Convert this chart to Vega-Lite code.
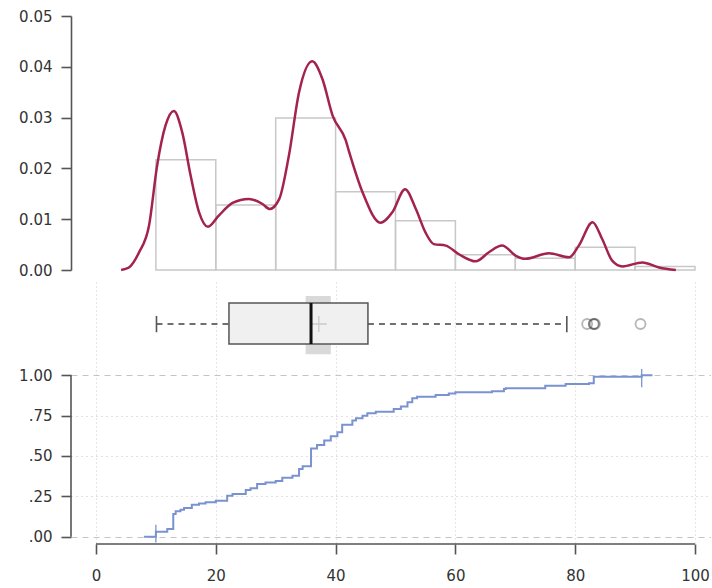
{
  "$schema": "https://vega.github.io/schema/vega-lite/v6.json",
  "autosize": {"type": "pad"},
  "padding": {"left": 18, "top": 9, "right": 0, "bottom": 0},
  "background": "white",
  "spacing": 12,
  "bounds": "flush",
  "config": {
    "view": {"stroke": null},
    "font": "DejaVu Sans",
    "axis": {
      "labelFont": "DejaVu Sans",
      "labelFontSize": 15,
      "labelColor": "#333333",
      "domainColor": "#555555",
      "tickColor": "#555555",
      "domainWidth": 1.6,
      "tickWidth": 1.6,
      "tickSize": 10,
      "title": null
    }
  },
  "datasets": {
    "hist": [
      {"bin_start": 10, "bin_end": 20, "density": 0.0217},
      {"bin_start": 20, "bin_end": 30, "density": 0.0128},
      {"bin_start": 30, "bin_end": 40, "density": 0.0299},
      {"bin_start": 40, "bin_end": 50, "density": 0.0154},
      {"bin_start": 50, "bin_end": 60, "density": 0.0097},
      {"bin_start": 60, "bin_end": 70, "density": 0.0030},
      {"bin_start": 70, "bin_end": 80, "density": 0.0023},
      {"bin_start": 80, "bin_end": 90, "density": 0.0045},
      {"bin_start": 90, "bin_end": 100, "density": 0.0007}
    ],
    "dens": [
      {"x": 4.2, "d": 0.0}, {"x": 5.5, "d": 0.0005}, {"x": 7.2, "d": 0.0035}, {"x": 8.85, "d": 0.0087},
      {"x": 10.2, "d": 0.0205}, {"x": 11.6, "d": 0.0284}, {"x": 13.0, "d": 0.0313}, {"x": 14.4, "d": 0.0271},
      {"x": 15.8, "d": 0.0186}, {"x": 17.2, "d": 0.0114}, {"x": 18.7, "d": 0.0085}, {"x": 20.5, "d": 0.0107},
      {"x": 22.8, "d": 0.0132}, {"x": 25.5, "d": 0.014}, {"x": 27.8, "d": 0.013}, {"x": 29.0, "d": 0.012},
      {"x": 30.6, "d": 0.014}, {"x": 32.2, "d": 0.0225}, {"x": 33.9, "d": 0.035}, {"x": 36.1, "d": 0.0411},
      {"x": 37.8, "d": 0.0376}, {"x": 39.5, "d": 0.0304}, {"x": 41.7, "d": 0.0255}, {"x": 42.2, "d": 0.0235},
      {"x": 44.5, "d": 0.0153}, {"x": 47.5, "d": 0.0093}, {"x": 49.5, "d": 0.0114}, {"x": 51.6, "d": 0.0159},
      {"x": 53.4, "d": 0.012}, {"x": 55.0, "d": 0.0074}, {"x": 56.4, "d": 0.0051}, {"x": 58.4, "d": 0.0048},
      {"x": 60.6, "d": 0.0031}, {"x": 63.4, "d": 0.0017}, {"x": 65.6, "d": 0.0035}, {"x": 67.8, "d": 0.0048},
      {"x": 70.1, "d": 0.0028}, {"x": 71.7, "d": 0.0022}, {"x": 75.6, "d": 0.0033}, {"x": 79.0, "d": 0.0025},
      {"x": 80.6, "d": 0.0048}, {"x": 82.9, "d": 0.0094}, {"x": 84.5, "d": 0.0061}, {"x": 86.2, "d": 0.0018},
      {"x": 87.9, "d": 0.0007}, {"x": 91.2, "d": 0.0015}, {"x": 94.0, "d": 0.0005}, {"x": 96.8, "d": 0.0}
    ],
    "ecdf": [
      {"x": 8.0, "F": 0}, {"x": 10.0, "F": 0.031}, {"x": 11.9, "F": 0.048}, {"x": 12.9, "F": 0.141},
      {"x": 13.3, "F": 0.157}, {"x": 14.1, "F": 0.167}, {"x": 14.7, "F": 0.178}, {"x": 16.0, "F": 0.198},
      {"x": 17.2, "F": 0.205}, {"x": 18.3, "F": 0.213}, {"x": 20.0, "F": 0.223}, {"x": 21.9, "F": 0.254},
      {"x": 22.8, "F": 0.264}, {"x": 25.0, "F": 0.289}, {"x": 25.8, "F": 0.3}, {"x": 26.9, "F": 0.326},
      {"x": 28.3, "F": 0.336}, {"x": 30.0, "F": 0.345}, {"x": 31.1, "F": 0.365}, {"x": 32.8, "F": 0.378},
      {"x": 33.9, "F": 0.419}, {"x": 34.5, "F": 0.436}, {"x": 35.9, "F": 0.547}, {"x": 36.9, "F": 0.568},
      {"x": 38.1, "F": 0.595}, {"x": 39.2, "F": 0.622}, {"x": 40.3, "F": 0.647}, {"x": 41.1, "F": 0.694},
      {"x": 42.8, "F": 0.719}, {"x": 43.4, "F": 0.733}, {"x": 44.5, "F": 0.749}, {"x": 45.3, "F": 0.764},
      {"x": 46.7, "F": 0.774}, {"x": 49.7, "F": 0.79}, {"x": 50.9, "F": 0.806}, {"x": 52.0, "F": 0.832},
      {"x": 52.8, "F": 0.857}, {"x": 53.6, "F": 0.867}, {"x": 56.7, "F": 0.877}, {"x": 58.9, "F": 0.887},
      {"x": 60.0, "F": 0.894}, {"x": 66.1, "F": 0.9}, {"x": 68.1, "F": 0.915}, {"x": 68.4, "F": 0.92},
      {"x": 75.0, "F": 0.935}, {"x": 78.4, "F": 0.945}, {"x": 82.3, "F": 0.95}, {"x": 83.1, "F": 0.99},
      {"x": 91.1, "F": 1.0}, {"x": 92.9, "F": 1.0}
    ],
    "ecdf_ends": [
      {"x": 10.0, "lo": -0.035, "hi": 0.074},
      {"x": 91.1, "lo": 0.925, "hi": 1.038}
    ],
    "box": [
      {"min": 10.1, "q1": 22.2, "median": 35.9, "q3": 45.4, "max": 78.6, "mean": 37.2, "notch_lo": 35.0, "notch_hi": 39.2}
    ],
    "outliers": [
      {"x": 82.0}, {"x": 83.1}, {"x": 83.1}, {"x": 83.3}, {"x": 90.9}
    ]
  },
  "vconcat": [
    {
      "width": 640,
      "height": 254,
      "layer": [
        {
          "data": {"name": "hist"},
          "mark": {"type": "rect", "fill": "transparent", "stroke": "#c8c8c8", "strokeWidth": 1.5},
          "encoding": {
            "x": {"field": "bin_start", "type": "quantitative", "scale": {"domain": [-4.17, 102.67], "nice": false, "zero": false}, "axis": null},
            "x2": {"field": "bin_end"},
            "y": {"field": "density", "type": "quantitative", "scale": {"domain": [0, 0.05], "nice": false},
              "axis": {"values": [0, 0.01, 0.02, 0.03, 0.04, 0.05], "format": ".2f", "labelPadding": 9, "grid": false}},
            "y2": {"datum": 0}
          }
        },
        {
          "data": {"name": "dens"},
          "mark": {"type": "line", "interpolate": "monotone", "color": "#a3224f", "strokeWidth": 2.5},
          "encoding": {
            "x": {"field": "x", "type": "quantitative"},
            "y": {"field": "d", "type": "quantitative"}
          }
        }
      ]
    },
    {
      "width": 640,
      "height": 262,
      "encoding": {
        "x": {"type": "quantitative", "scale": {"domain": [-4.17, 102.67], "nice": false, "zero": false},
          "axis": {"values": [0, 20, 40, 60, 80, 100], "domain": false, "labelPadding": 14, "grid": true,
            "gridDash": [1, 3], "gridColor": "#cfcfcf", "gridWidth": 1.2}},
        "y": {"type": "quantitative", "scale": {"domain": [-0.045, 1.577], "nice": false, "zero": false},
          "axis": {"values": [0, 0.25, 0.5, 0.75, 1], "domain": false, "labelPadding": 9,
            "labelExpr": "replace(format(datum.value, '.2f'), '0.', '.')",
            "grid": true, "gridColor": "#c4c4c4", "gridWidth": 1.2,
            "gridDash": {"condition": {"test": "datum.value === 0 || datum.value === 1", "value": [6, 5]}, "value": [1, 4]}}}
      },
      "layer": [
        {
          "data": {"name": "box"},
          "mark": {"type": "rule", "color": "#555555", "strokeWidth": 1.6},
          "encoding": {"x": {"datum": 0}, "x2": {"datum": 100}, "y": {"datum": -0.045}}
        },
        {
          "data": {"name": "box"},
          "mark": {"type": "rule", "color": "#555555", "strokeWidth": 1.6},
          "encoding": {"x": {"datum": -4.17}, "y": {"datum": 0}, "y2": {"datum": 1}}
        },
        {
          "data": {"name": "ecdf"},
          "mark": {"type": "line", "interpolate": "step-after", "color": "#7a92cf", "strokeWidth": 2},
          "encoding": {"x": {"field": "x"}, "y": {"field": "F"}}
        },
        {
          "data": {"name": "ecdf_ends"},
          "mark": {"type": "rule", "color": "#7a92cf", "strokeWidth": 1.3},
          "encoding": {"x": {"field": "x"}, "y": {"field": "lo"}, "y2": {"field": "hi"}}
        },
        {
          "data": {"name": "box"},
          "mark": {"type": "rect", "fill": "#d9d9d9"},
          "encoding": {"x": {"field": "notch_lo"}, "x2": {"field": "notch_hi"}, "y": {"datum": 1.13}, "y2": {"datum": 1.49}}
        },
        {
          "data": {"name": "box"},
          "mark": {"type": "rule", "color": "#707070", "strokeWidth": 2.2, "strokeDash": [6, 5]},
          "encoding": {"x": {"field": "min"}, "x2": {"field": "q1"}, "y": {"datum": 1.317}}
        },
        {
          "data": {"name": "box"},
          "mark": {"type": "rule", "color": "#707070", "strokeWidth": 2.2, "strokeDash": [6, 5]},
          "encoding": {"x": {"field": "q3"}, "x2": {"field": "max"}, "y": {"datum": 1.317}}
        },
        {
          "data": {"name": "box"},
          "mark": {"type": "rule", "color": "#555555", "strokeWidth": 1.6},
          "encoding": {"x": {"field": "min"}, "y": {"datum": 1.266}, "y2": {"datum": 1.367}}
        },
        {
          "data": {"name": "box"},
          "mark": {"type": "rule", "color": "#555555", "strokeWidth": 1.6},
          "encoding": {"x": {"field": "max"}, "y": {"datum": 1.266}, "y2": {"datum": 1.367}}
        },
        {
          "data": {"name": "box"},
          "mark": {"type": "rect", "fill": "#f0f0f0", "stroke": "#555555", "strokeWidth": 1.5},
          "encoding": {"x": {"field": "q1"}, "x2": {"field": "q3"}, "y": {"datum": 1.193}, "y2": {"datum": 1.447}}
        },
        {
          "data": {"name": "box"},
          "mark": {"type": "point", "shape": "M-1,0H1M0,-1V1", "filled": false, "stroke": "#bbbbbb", "strokeWidth": 1.3, "size": 256},
          "encoding": {"x": {"field": "mean"}, "y": {"datum": 1.317}}
        },
        {
          "data": {"name": "box"},
          "mark": {"type": "rule", "color": "#111111", "strokeWidth": 3},
          "encoding": {"x": {"field": "median"}, "y": {"datum": 1.193}, "y2": {"datum": 1.447}}
        },
        {
          "data": {"name": "outliers"},
          "mark": {"type": "point", "shape": "circle", "filled": false, "stroke": "#333333", "strokeOpacity": 0.5, "strokeWidth": 1.8, "size": 100},
          "encoding": {"x": {"field": "x"}, "y": {"datum": 1.317}}
        }
      ]
    }
  ]
}
